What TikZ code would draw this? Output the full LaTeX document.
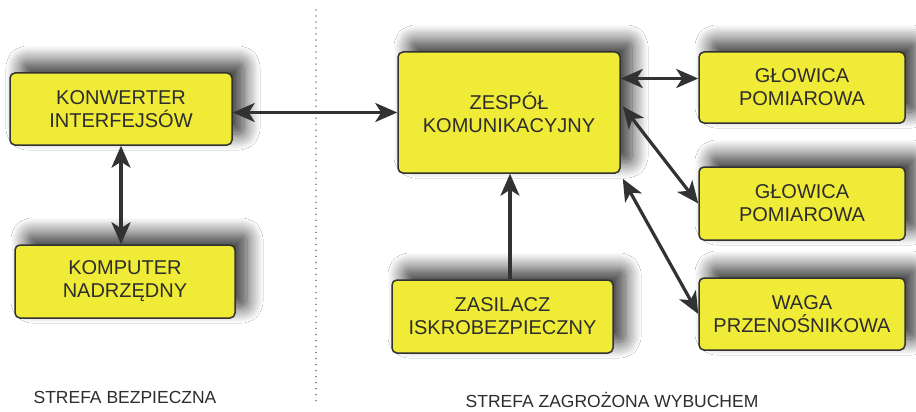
\documentclass[tikz,border=0pt]{standalone}
\usepackage{fontspec}
\setmainfont{Liberation Sans}
\usetikzlibrary{arrows.meta,shadows.blur,calc}
\definecolor{boxyellow}{RGB}{240,235,55}
\definecolor{edge}{RGB}{50,50,50}
\definecolor{txt}{RGB}{45,45,45}
\tikzset{
  blk/.style={draw=edge, line width=1.5pt, fill=boxyellow, rounded corners=5pt,
    align=center, text=txt, font=\fontsize{20}{23}\selectfont, inner sep=0pt,
    blur shadow={shadow xshift=12pt, shadow yshift=11pt, shadow blur radius=16pt, shadow opacity=80, shadow blur steps=14}},
  tip/.tip={Stealth[length=22pt,width=19pt,inset=6pt]},
  conn/.style={draw=edge, line width=3.2pt, tip-tip},
  conn1/.style={draw=edge, line width=3.2pt, -tip},
  zone/.style={text=txt, font=\fontsize{17.5}{20}\selectfont}
}
\begin{document}
\begin{tikzpicture}[x=1pt,y=-1pt]
\useasboundingbox[fill=white] (0,0) rectangle (916,412);
\draw[gray, line width=1.6pt, line cap=round, dash pattern=on 0.01pt off 6pt] (316,10) -- (316,402);
\node[blk, minimum width=222pt, minimum height=72pt] (konw) at (121,109) {KONWERTER\\INTERFEJSÓW};
\node[blk, minimum width=220pt, minimum height=73pt] (komp) at (125,281.5) {KOMPUTER\\NADRZĘDNY};
\node[blk, minimum width=222pt, minimum height=121pt] (zesp) at (509,112.5) {ZESPÓŁ\\KOMUNIKACYJNY};
\node[blk, minimum width=206pt, minimum height=71pt] (g1) at (802,87.5) {GŁOWICA\\POMIAROWA};
\node[blk, minimum width=206pt, minimum height=73pt] (g2) at (802,203.5) {GŁOWICA\\POMIAROWA};
\node[blk, minimum width=206pt, minimum height=72pt] (waga) at (802,314) {WAGA\\PRZENOŚNIKOWA};
\node[blk, minimum width=221pt, minimum height=73pt] (zas) at (502.5,316.5) {ZASILACZ\\ISKROBEZPIECZNY};
\node[zone] (sb) at (125,397) {STREFA BEZPIECZNA};
\node[zone] (sz) at (612,400) {STREFA ZAGROŻONA WYBUCHEM};
\coordinate (z1) at ($(zesp.north east)+(2,55)$);
\coordinate (z2) at ($(zesp.south east)+(2,5)$);
\coordinate (gy) at ($(g1.west)+(0,-9)$);
\draw[conn] (konw.east |- zesp.west) -- (zesp.west);
\draw[conn] (konw.south) ++(0,0) coordinate (ks) -- (ks |- komp.north);
\draw[conn] (zesp.east |- gy) -- (gy);
\draw[conn] (z1) -- (g2.west);
\draw[conn] (z2) -- (waga.west);
\draw[conn1] (zas.north -| 510,0) -- (zesp.south -| 510,0);
\end{tikzpicture}
\end{document}
